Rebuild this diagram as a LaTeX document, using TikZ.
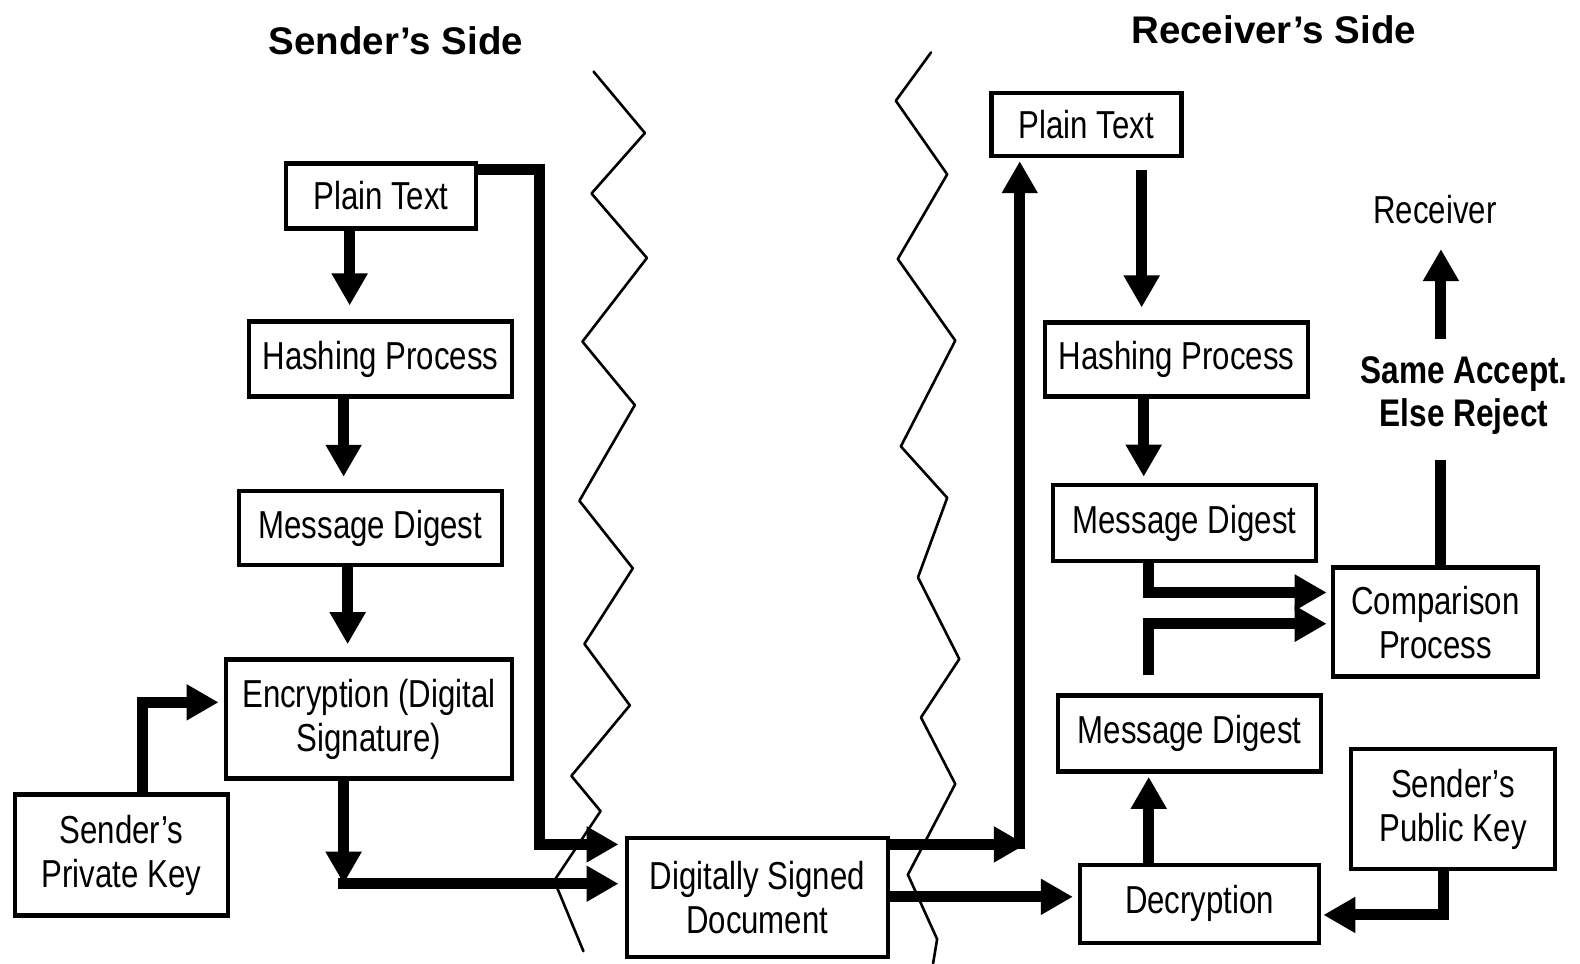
\documentclass[tikz,border=0pt]{standalone}
\usepackage{fontspec}
\setmainfont{Liberation Sans}
\newfontfamily\nar[FakeStretch=0.8]{Liberation Sans}
\newfontfamily\narb[FakeStretch=0.82]{Liberation Sans}
\usetikzlibrary{arrows.meta,calc}
\begin{document}
\begin{tikzpicture}[x=1.0077pt,y=-1.0077pt,
  box/.style={draw,line width=4.5pt,inner sep=0pt,align=center,font=\nar\fontsize{39}{44}\selectfont},
  lbl/.style={inner sep=0pt,align=center,font=\nar\fontsize{39}{44}\selectfont},
  ttl/.style={inner sep=0pt,font=\bfseries\fontsize{38.5}{44}\selectfont},
  arr/.style={line width=11pt,line cap=butt,line join=miter,-{Triangle[length=32pt,width=34pt]}},
  bar/.style={line width=11pt,line cap=butt,line join=miter},
  wave/.style={line width=2.6pt,line join=round,line cap=round}]
\fill[white] (0,0) rectangle (1568,956);
\useasboundingbox (0,0) rectangle (1568,956);

% titles
\node[ttl] (tS) at (393,40) {Sender’s Side};
\node[ttl] (tR) at (1264,30) {Receiver’s Side};

% wavy separators
\draw[wave] (589,71) -- (640,132) -- (587,192) -- (642,256) -- (578,339) -- (630,402) -- (575,497) -- (628,564) -- (580,639) -- (625,700) -- (567,770) -- (596,805) -- (550,874) -- (579,944);
\draw[wave] (924,52) -- (889,100) -- (940,173) -- (891,257) -- (948,338) -- (894,443) -- (940,494) -- (911,573) -- (952,654) -- (914,712) -- (948,778) -- (901,868) -- (930,932) -- (926,956);

% sender boxes
\node[box,minimum width=190pt,minimum height=65pt] (ptL) at (378,194.5) {Plain Text};
\node[box,minimum width=263pt,minimum height=75pt] (hpL) at (377.5,356.5) {Hashing Process};
\node[box,minimum width=263pt,minimum height=74pt] (mdL) at (367.5,524) {Message Digest};
\node[box,minimum width=286pt,minimum height=119pt] (enc) at (366,713.5) {Encryption (Digital\\Signature)};
\node[box,minimum width=213pt,minimum height=121pt] (spk) at (120.5,848.5) {Sender’s\\Private Key};
\node[box,minimum width=261pt,minimum height=119pt] (dsd) at (751.5,890.5) {Digitally Signed\\Document};

% receiver boxes
\node[box,minimum width=190pt,minimum height=63pt] (ptR) at (1078,123.5) {Plain Text};
\node[box,minimum width=263pt,minimum height=74pt] (hpR) at (1167.5,357) {Hashing Process};
\node[box,minimum width=263pt,minimum height=76pt] (mdA) at (1175.5,519) {Message Digest};
\node[box,minimum width=205pt,minimum height=109pt] (cmp) at (1424.5,617.5) {Comparison\\Process};
\node[box,minimum width=263pt,minimum height=76pt] (mdB) at (1180.5,728) {Message Digest};
\node[box,minimum width=204pt,minimum height=120pt] (pub) at (1442,803) {Sender’s\\Public Key};
\node[box,minimum width=239pt,minimum height=78pt] (dec) at (1190.5,897) {Decryption};

\node[lbl] (rcv) at (1424,208) {Receiver};
\node[inner sep=0pt,align=center,font=\narb\bfseries\fontsize{38.5}{43}\selectfont] (acc) at (1453,393) {Same Accept.\\Else Reject};

% sender connectors
\draw[arr,shorten >=14pt] (ptL.south -| 347,0) -- (hpL.north -| 347,0);
\draw[arr,shorten >=12pt] (hpL.south -| 341,0) -- (mdL.north -| 341,0);
\draw[arr,shorten >=13pt] (mdL.south -| 345,0) -- (enc.north -| 345,0);
\draw[arr,shorten >=5pt] (spk.north -| 141,0) |- (enc.west |- 0,697);
\coordinate (j1) at (341,877);
\draw[arr] (enc.south -| j1) -- (j1);
\draw[arr,shorten >=6pt] ($(j1)+(-5.5,0)$) -- (dsd.west |- j1);
\coordinate (c1) at (535,838);
\draw[arr,shorten >=6pt] (ptL.east |- 0,168) -| (c1) -- (c1 -| dsd.west);

% transfer connectors
\coordinate (c2) at (1018,838);
\draw[arr] (c2 -| dsd.east) -- (c2);
\coordinate (c3) at (1012,843);
\draw[arr,shorten >=3pt] (c3) -- (c3 |- ptR.south);
\draw[arr,shorten >=5pt] (dsd.east |- 0,890) -- (dec.west |- 0,890);

% receiver connectors
\draw[arr,shorten <=12pt,shorten >=13pt] (ptR.south -| 1133,0) -- (hpR.north -| 1133,0);
\draw[arr,shorten >=6pt] (hpR.south -| 1135,0) -- (mdA.north -| 1135,0);
\draw[arr,shorten >=4pt] (mdA.south -| 1140,0) |- (cmp.west |- 0,588);
\draw[arr,shorten <=18pt,shorten >=4pt] (mdB.north -| 1140,0) |- (cmp.west |- 0,619);
\draw[arr,shorten >=3pt] (dec.north -| 1140,0) -- (mdB.south -| 1140,0);
\draw[arr,shorten >=2pt] (pub.south -| 1433,0) |- (dec.east |- 0,908);
\draw[bar,shorten >=25pt] (cmp.north -| 1430,0) -- (acc.south -| 1430,0);
\draw[arr,shorten <=18pt,shorten >=25pt] (acc.north -| 1430,0) -- (rcv.south -| 1430,0);
\end{tikzpicture}
\end{document}
